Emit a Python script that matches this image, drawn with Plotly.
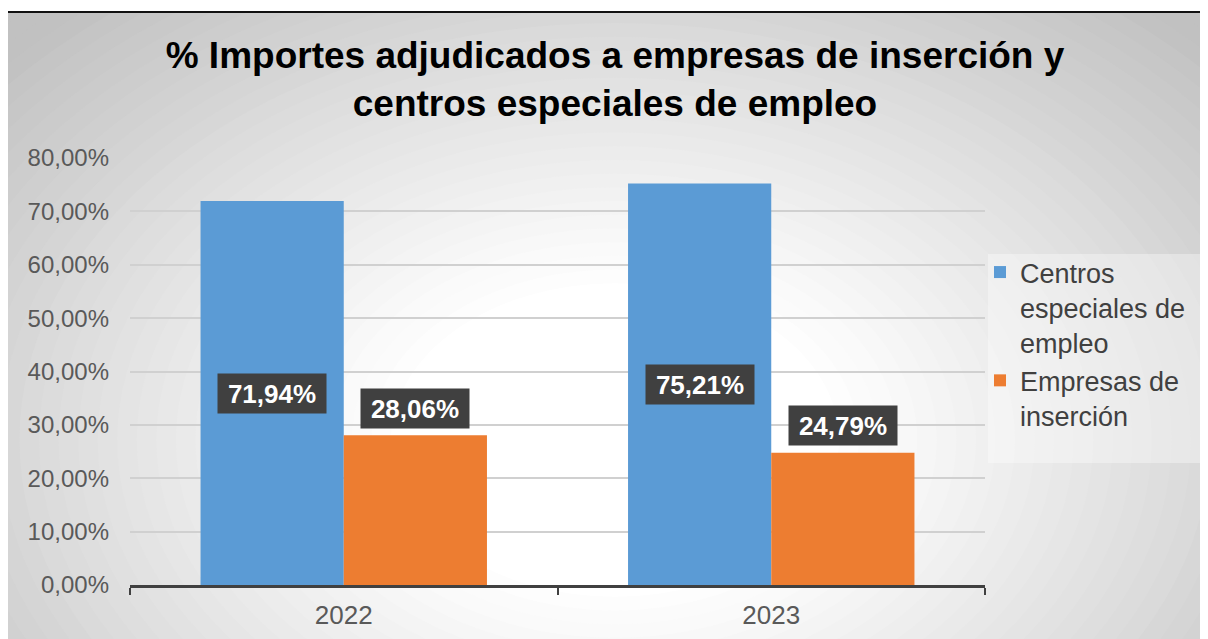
import plotly.graph_objects as go

# ---- data ----
years = ["2022", "2023"]
centros = [71.94, 75.21]
empresas = [28.06, 24.79]
series_names = ["Centros<br>especiales de<br>empleo", "Empresas de<br>inserción"]
y_ticks = [0, 10, 20, 30, 40, 50, 60, 70, 80]
y_tick_labels = ["0,00%", "10,00%", "20,00%", "30,00%", "40,00%", "50,00%", "60,00%", "70,00%", "80,00%"]
title_text = "% Importes adjudicados a empresas de inserción y<br>centros especiales de empleo"

W, H = 1208, 639
OFF = 8  # page body offset of the figure in the screenshot
ML, MR, MT, MB = 122, 231, 150, 62
PW, PH = W - ML - MR, H - MT - MB


def px(x):
    """screenshot x pixel -> paper x"""
    return (x - OFF - ML) / PW


def py(y):
    """screenshot y pixel -> paper y"""
    return (H - MB - (y - OFF)) / PH


def fmt(v):
    return f"{v:.2f}".replace(".", ",") + "%"


FONT = "Liberation Sans, Arial, sans-serif"
BLUE = "#5B9BD5"
ORANGE = "#ED7D31"

fig = go.Figure()
fig.add_trace(go.Bar(name=series_names[0], x=years, y=centros, marker=dict(color=BLUE, line=dict(width=0))))
fig.add_trace(go.Bar(name=series_names[1], x=years, y=empresas, marker=dict(color=ORANGE, line=dict(width=0))))

# ---- background radial gradient (decorative shapes) ----
shapes = []
cx, cy, rx, ry = 615, 440, 800, 560
n = 45
for k in range(n, -1, -1):
    d = 0.28 + 1.1 * k / n
    t = max(0.0, min(1.0, (d - 0.28) / 0.75))
    c = int(round(255 - 62 * t ** 1.05))
    shapes.append(dict(type="circle", xref="paper", yref="paper", layer="below",
                       x0=px(cx - rx * d), x1=px(cx + rx * d),
                       y0=py(cy + ry * d), y1=py(cy - ry * d),
                       fillcolor=f"rgb({c},{c},{c})", line=dict(width=0)))
# white strip above the chart frame
shapes.append(dict(type="rect", xref="paper", yref="paper", layer="below",
                   x0=px(-20), x1=px(W + 20), y0=py(12), y1=py(-20),
                   fillcolor="white", line=dict(width=0)))
# top frame line
shapes.append(dict(type="line", xref="paper", yref="paper", layer="below",
                   x0=px(0), x1=px(W + 20), y0=py(12), y1=py(12),
                   line=dict(color="#111111", width=2)))
# legend box
shapes.append(dict(type="rect", xref="paper", yref="paper", layer="below",
                   x0=px(988), x1=px(1204), y0=py(463), y1=py(254),
                   fillcolor="rgba(255,255,255,0.35)", line=dict(width=0)))

# ---- data labels ----
annotations = []
for i in range(len(years)):
    annotations.append(dict(x=i - 0.1675, y=centros[i] / 2, xref="x", yref="y",
                            text=f"<b>{fmt(centros[i])}</b>", showarrow=False,
                            font=dict(family=FONT, size=26, color="white"),
                            bgcolor="#404040", width=100, height=31, borderpad=4))
    annotations.append(dict(x=i + 0.1675, y=empresas[i], xref="x", yref="y", yshift=27,
                            text=f"<b>{fmt(empresas[i])}</b>", showarrow=False,
                            font=dict(family=FONT, size=26, color="white"),
                            bgcolor="#404040", width=100, height=31, borderpad=4))

fig.update_layout(
    width=W, height=H,
    margin=dict(l=ML, r=MR, t=MT, b=MB, autoexpand=False),
    paper_bgcolor="white",
    plot_bgcolor="rgba(0,0,0,0)",
    barmode="group",
    bargap=0.33,
    bargroupgap=0,
    title=dict(text=title_text, x=607 / W, xanchor="center", y=1 - 60 / H, yanchor="middle",
               yref="container",
               font=dict(family=FONT, size=37, color="black", weight="bold")),
    showlegend=True,
    legend=dict(x=px(980), xanchor="left", y=py(248), yanchor="top",
                bgcolor="rgba(0,0,0,0)", borderwidth=0, valign="top",
                font=dict(family=FONT, size=27, color="#404040"),
                tracegroupgap=0, itemsizing="constant"),
    shapes=shapes,
    annotations=annotations,
    font=dict(family=FONT),
)
fig.update_xaxes(type="category", showgrid=False, showline=True, linecolor="#404040", linewidth=3,
                 ticks="outside", tickson="boundaries", ticklen=7, tickwidth=2, tickcolor="#404040",
                 tickfont=dict(family=FONT, size=26, color="#595959"), ticklabelstandoff=5,
                 range=[-0.5, 1.5], zeroline=False)
fig.update_yaxes(range=[0, 80], tickvals=y_ticks, ticktext=y_tick_labels,
                 showgrid=True, gridcolor="#d0d0d0", gridwidth=1.5, zeroline=False, showline=False,
                 ticks="", tickfont=dict(family=FONT, size=24, color="#595959"), ticklabelstandoff=20)

fig.write_html("out.html")
